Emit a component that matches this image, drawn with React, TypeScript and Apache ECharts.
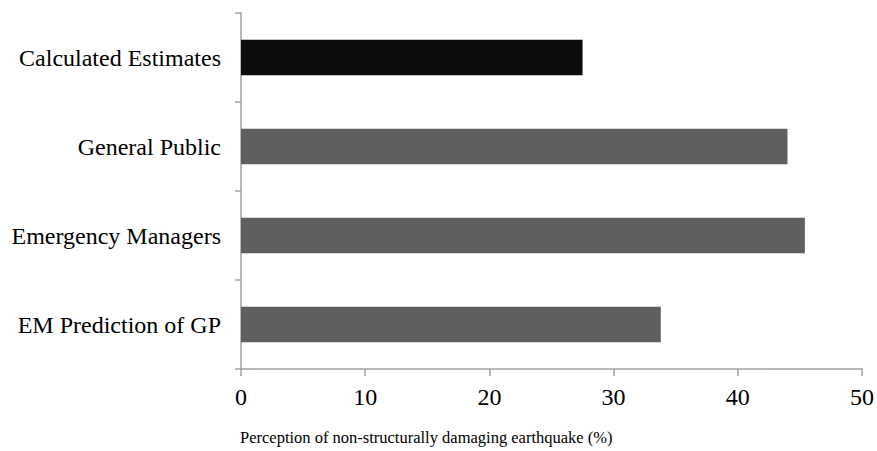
import React, { useEffect, useRef } from "react";
import * as echarts from "echarts";

// Perception of non-structurally damaging earthquake, by respondent group (%)
const categories = [
  "EM Prediction of GP",
  "Emergency Managers",
  "General Public",
  "Calculated Estimates",
];
const values = [33.8, 45.4, 44.0, 27.5];
const barColors = ["#5f5f5f", "#5f5f5f", "#5f5f5f", "#0d0d0d"];
const xTicks = [0, 10, 20, 30, 40, 50];
const xAxisTitle = "Perception of non-structurally damaging earthquake (%)";

const FONT = "'Liberation Serif', 'Times New Roman', serif";
const AXIS_COLOR = "#a0a0a0";

export default function App() {
  const ref = useRef<HTMLDivElement>(null);

  useEffect(() => {
    document.body.style.margin = "0";
    if (!ref.current) return;
    const chart = echarts.init(ref.current, undefined, { renderer: "svg" });
    chart.setOption({
      animation: false,
      backgroundColor: "#ffffff",
      grid: { left: 241, right: 15, top: 13, bottom: 82, containLabel: false },
      xAxis: {
        type: "value",
        min: xTicks[0],
        max: xTicks[xTicks.length - 1],
        interval: xTicks[1] - xTicks[0],
        axisLine: { show: true, lineStyle: { color: AXIS_COLOR, width: 1.5 } },
        axisTick: { show: true, length: 7, lineStyle: { color: AXIS_COLOR, width: 1.5 } },
        splitLine: { show: false },
        axisLabel: {
          color: "#000",
          fontFamily: FONT,
          fontSize: 24,
          margin: 16,
        },
      },
      yAxis: {
        type: "category",
        data: categories,
        axisLine: { show: true, lineStyle: { color: AXIS_COLOR, width: 1.5 } },
        axisTick: { show: true, length: 6, lineStyle: { color: AXIS_COLOR, width: 1.5 } },
        axisLabel: {
          color: "#000",
          fontFamily: FONT,
          fontSize: 24,
          margin: 20,
        },
      },
      series: [
        {
          type: "bar",
          barWidth: "40%",
          data: values.map((v, i) => ({
            value: v,
            itemStyle: { color: barColors[i] },
          })),
        },
      ],
      graphic: [
        {
          type: "text",
          left: 240,
          top: 429,
          style: {
            text: xAxisTitle,
            fill: "#000",
            font: `16.5px ${FONT}`,
          },
        },
      ],
    });
    return () => chart.dispose();
  }, []);

  return <div ref={ref} style={{ width: 877, height: 451 }} />;
}
